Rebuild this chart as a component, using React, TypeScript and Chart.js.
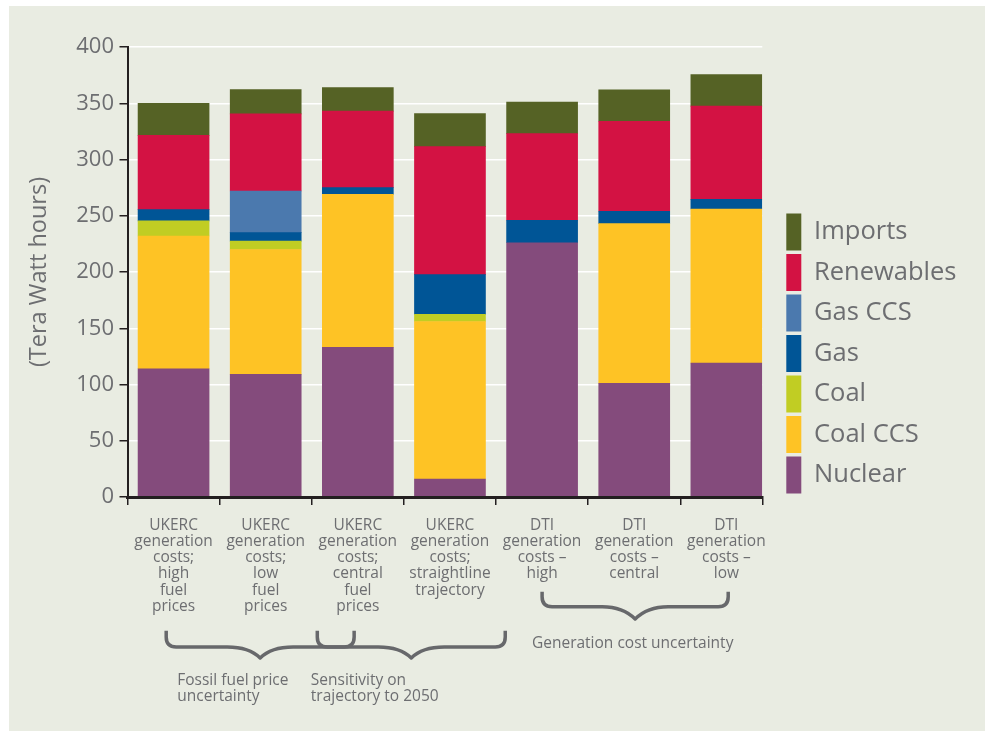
import React, { useEffect, useRef } from 'react';
import { Chart, registerables } from 'chart.js';

Chart.register(...registerables);

// ---------- data ----------
const categories: string[][] = [
  ['UKERC', 'generation', 'costs;', 'high', 'fuel', 'prices'],
  ['UKERC', 'generation', 'costs;', 'low', 'fuel', 'prices'],
  ['UKERC', 'generation', 'costs;', 'central', 'fuel', 'prices'],
  ['UKERC', 'generation', 'costs;', 'straightline', 'trajectory'],
  ['DTI', 'generation', 'costs –', 'high'],
  ['DTI', 'generation', 'costs –', 'central'],
  ['DTI', 'generation', 'costs –', 'low'],
];

const nuclear = [114, 109, 133, 16, 226, 101, 119];
const coalCCS = [118, 111, 136, 140, null, 142, 137];
const coal = [13.5, 7.5, null, 6.3, null, null, null];
const gas = [10, 7.5, 6, 35.4, 20, 11, 8.5];
const gasCCS = [null, 37, null, null, null, null, null];
const renewables = [66, 68.5, 68, 113.8, 77, 80, 83];
const imports = [28.5, 21.7, 21, 29.3, 28, 28, 28];

const yTickStep = 50;
const yMax = 400;

const groupNotes: string[][] = [
  ['Fossil fuel price', 'uncertainty'],
  ['Sensitivity on', 'trajectory to 2050'],
  ['Generation cost uncertainty'],
];

// ---------- styles ----------
const FONT = '"Open Sans", sans-serif';
const GREY = '#6d6e71';
const DARK = '#231f20';
const BG = '#e9ece2';
const BRACE = '#67686b';

const COLORS = {
  nuclear: '#844b7c',
  coalCCS: '#fec325',
  coal: '#c1cd23',
  gas: '#005596',
  gasCCS: '#4b79ae',
  renewables: '#d31243',
  imports: '#556225',
};

const X_MIN = -0.5;
const X_MAX = 6.39;

// brace geometry (in category units along x, pixel offsets below the axis)
const braceLayout = [
  { from: -0.08, to: 1.96, top: 133.7, mid: 150, tip: 161, textAt: 0.04, textBase: 188.3 },
  { from: 1.56, to: 3.6, top: 133.7, mid: 150, tip: 161, textAt: 1.49, textBase: 188.3 },
  { from: 4.0, to: 6.02, top: 94.7, mid: 109.7, tip: 122, textAt: 3.89, textBase: 151.3 },
];

function drawBrace(ctx: CanvasRenderingContext2D, xl: number, xr: number, yT: number, yH: number, yA: number) {
  const r = 10;
  const xm = (xl + xr) / 2;
  const half = 33;
  ctx.beginPath();
  ctx.moveTo(xl, yT);
  ctx.lineTo(xl, yH - r);
  ctx.quadraticCurveTo(xl, yH, xl + r, yH);
  ctx.lineTo(xm - half, yH);
  ctx.bezierCurveTo(xm - 14, yH, xm - 5, yA - 5, xm, yA);
  ctx.bezierCurveTo(xm + 5, yA - 5, xm + 14, yH, xm + half, yH);
  ctx.lineTo(xr - r, yH);
  ctx.quadraticCurveTo(xr, yH, xr, yH - r);
  ctx.lineTo(xr, yT);
  ctx.stroke();
}

const bracePlugin = {
  id: 'groupBraces',
  afterDraw(chart: any) {
    const xs = chart.scales.x;
    const base = chart.chartArea.bottom;
    const ctx: CanvasRenderingContext2D = chart.ctx;
    ctx.save();
    ctx.strokeStyle = BRACE;
    ctx.lineWidth = 3.5;
    ctx.lineCap = 'butt';
    ctx.lineJoin = 'round';
    braceLayout.forEach((b, i) => {
      drawBrace(ctx, xs.getPixelForValue(b.from), xs.getPixelForValue(b.to), base + b.top, base + b.mid, base + b.tip);
      ctx.fillStyle = GREY;
      ctx.font = `15.5px ${FONT}`;
      ctx.textAlign = 'left';
      ctx.textBaseline = 'alphabetic';
      groupNotes[i].forEach((line, j) => {
        ctx.fillText(line, xs.getPixelForValue(b.textAt), base + b.textBase + j * 15.5);
      });
    });
    ctx.restore();
  },
};

export default function App() {
  const ref = useRef<HTMLCanvasElement>(null);

  useEffect(() => {
    if (!ref.current) return;
    Chart.defaults.font.family = FONT;

    const tickValues: number[] = [];
    categories.forEach((_, i) => {
      tickValues.push(i - 0.5);
      tickValues.push(i);
    });
    tickValues.push(X_MAX);

    const ds = (label: string, data: (number | null)[], color: string) => ({
      label,
      data,
      backgroundColor: color,
      borderColor: color,
      borderWidth: 0,
      barThickness: 71,
    });

    const chart = new Chart(ref.current, {
      type: 'bar',
      data: {
        labels: categories.map((_, i) => i),
        datasets: [
          ds('Nuclear', nuclear, COLORS.nuclear),
          ds('Coal CCS', coalCCS, COLORS.coalCCS),
          ds('Coal', coal, COLORS.coal),
          ds('Gas', gas, COLORS.gas),
          ds('Gas CCS', gasCCS, COLORS.gasCCS),
          ds('Renewables', renewables, COLORS.renewables),
          ds('Imports', imports, COLORS.imports),
        ],
      },
      options: {
        responsive: false,
        animation: false,
        devicePixelRatio: 1,
        layout: { padding: { top: 41, right: 18.5, bottom: 0, left: 0 } },
        plugins: {
          legend: {
            position: 'right',
            align: 'end',
            fullSize: false,
            reverse: true,
            labels: {
              boxWidth: 15,
              boxHeight: 37,
              padding: 3.5,
              color: GREY,
              font: { family: FONT, size: 25.5 },
            },
          },
          tooltip: { enabled: false },
        },
        scales: {
          x: {
            type: 'linear',
            stacked: true,
            offset: false,
            min: X_MIN,
            max: X_MAX,
            afterBuildTicks: (s: any) => {
              s.ticks = tickValues.map((v) => ({ value: v }));
            },
            afterFit: (s: any) => {
              s.height = 234;
            },
            ticks: {
              autoSkip: false,
              maxRotation: 0,
              minRotation: 0,
              padding: 12,
              color: GREY,
              font: { family: FONT, size: 15.5, lineHeight: 1.05 },
              callback: (v: any) => (Number.isInteger(v) ? categories[v] : ''),
            },
            grid: {
              offset: false,
              drawOnChartArea: false,
              drawTicks: true,
              tickLength: 8,
              lineWidth: 1.5,
              tickColor: (c: any) => (c.tick && Number.isInteger(c.tick.value) ? 'rgba(0,0,0,0)' : DARK),
            },
            border: { display: true, color: DARK, width: 3, z: 1 },
          },
          y: {
            stacked: true,
            min: 0,
            max: yMax,
            afterFit: (s: any) => {
              s.width = 118.5;
            },
            ticks: {
              stepSize: yTickStep,
              color: GREY,
              padding: 5.5,
              font: { family: FONT, size: 22 },
            },
            grid: {
              color: '#ffffff',
              lineWidth: 1.5,
              drawTicks: true,
              tickLength: 8,
              tickColor: DARK,
            },
            border: { display: true, color: DARK, width: 2 },
            title: {
              display: true,
              text: '(Tera Watt hours)',
              color: GREY,
              font: { family: FONT, size: 23.5 },
              padding: { top: 16.5, bottom: 0 },
            },
          },
          y2: {
            type: 'linear',
            position: 'right',
            display: false,
            afterFit: (s: any) => {
              s.width = 20.5;
            },
          },
        },
      } as any,
      plugins: [bracePlugin],
    });

    return () => chart.destroy();
  }, []);

  return (
    <div
      style={{
        position: 'absolute',
        left: 9,
        top: 6,
        width: 976,
        height: 725,
        background: BG,
      }}
    >
      <canvas ref={ref} width={976} height={725} style={{ display: 'block', width: 976, height: 725 }} />
    </div>
  );
}
